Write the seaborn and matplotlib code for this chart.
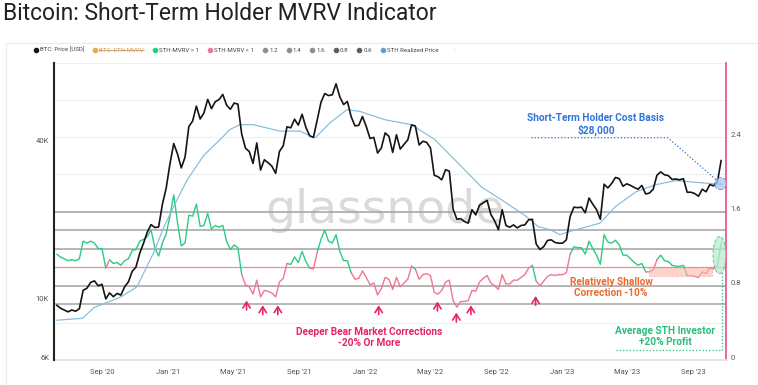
import matplotlib
matplotlib.use('Agg')
import matplotlib.pyplot as plt
import matplotlib.dates as mdates
from matplotlib.patches import Ellipse, Rectangle
from matplotlib.lines import Line2D
from matplotlib.ticker import NullLocator, FixedLocator
from matplotlib.transforms import ScaledTranslation
import numpy as np
import pandas as pd
import seaborn as sns

# weekly samples starting 2020-06-08
start_date = '2020-06-08'
btc_price = [
    # 2020
    9700, 9450, 9300, 9150, 9300, 9200, 9400, 11050, 11250, 11850, 12000, 11500, 11650,
    10250, 10800, 10450, 10750, 10600, 11400, 11900, 13050, 13550, 15300, 16700, 18400,
    19650, 19150, 19250, 23500, 27050,
    # 2021
    33500, 40000, 36500, 32300, 35500, 46400, 48700, 55500, 49600, 52300, 58900, 54300,
    57700, 58800, 61500, 56000, 54000, 57000, 56500, 43500, 38400, 37300, 33600, 40200,
    31700, 34700, 33800, 32800, 30800, 37300, 39200, 46300, 45900, 49500, 47000, 51700,
    46100, 42800, 42200, 49100, 57400, 62000, 60900, 61300, 67500, 60100, 56300, 57800,
    50600, 46700, 46900, 50700,
    # 2022
    46400, 41800, 42200, 36800, 38500, 43900, 42600, 37000, 43200, 38100, 39700, 41300,
    47100, 46600, 39500, 40800, 40400, 38500, 30300, 29900, 29100, 31800, 31400, 22500,
    20600, 20700, 20200, 19900, 22400, 21400, 23300, 23800, 24300, 21500, 20300, 18800,
    22400, 19500, 19200, 19600, 19100, 19500, 19600, 20500, 20600, 16600, 15800, 16200,
    17100, 17200, 16800, 16700,
    # 2023
    16700, 17200, 21100, 22900, 22800, 22900, 21800, 24800, 23500, 22400, 20600, 28000,
    27100, 28200, 29700, 29400, 27500, 28100, 27700, 27200, 26800, 27700, 25700, 25900,
    26800, 30300, 31200, 30400, 30200, 29200, 29300, 29100, 29400, 26100, 26100, 25800,
    25200, 26800, 26200, 27900, 27600, 28500, 34500,
]
sth_mvrv = [
    # 2020
    1.14, 1.11, 1.09, 1.07, 1.08, 1.07, 1.09, 1.28, 1.26, 1.28, 1.26, 1.20, 1.20,
    0.99, 1.08, 1.04, 1.05, 1.02, 1.07, 1.09, 1.18, 1.19, 1.28, 1.30, 1.33,
    1.40, 1.21, 1.12, 1.26, 1.36,
    # 2021
    1.55, 1.78, 1.48, 1.23, 1.26, 1.56, 1.55, 1.68, 1.44, 1.45, 1.58, 1.41,
    1.45, 1.43, 1.45, 1.28, 1.19, 1.24, 1.21, 0.92, 0.81, 0.79, 0.71, 0.86,
    0.68, 0.75, 0.74, 0.72, 0.68, 0.84, 0.88, 1.04, 1.03, 1.11, 1.05, 1.17,
    1.06, 0.99, 0.98, 1.16, 1.30, 1.40, 1.28, 1.26, 1.35, 1.17, 1.07, 1.07,
    0.94, 0.87, 0.88, 0.96,
    # 2022
    0.89, 0.81, 0.83, 0.70, 0.77, 0.89, 0.87, 0.76, 0.89, 0.79, 0.83, 0.87,
    1.01, 0.98, 0.87, 0.92, 0.93, 0.91, 0.73, 0.71, 0.75, 0.84, 0.86, 0.64,
    0.57, 0.63, 0.63, 0.64, 0.75, 0.74, 0.84, 0.88, 0.91, 0.83, 0.80, 0.76,
    0.92, 0.82, 0.82, 0.86, 0.86, 0.89, 0.92, 0.99, 1.02, 0.85, 0.80, 0.85,
    0.90, 0.92, 0.91, 0.92,
    # 2023
    0.92, 0.94, 1.14, 1.22, 1.21, 1.21, 1.14, 1.28, 1.20, 1.13, 1.03, 1.35,
    1.27, 1.26, 1.29, 1.24, 1.13, 1.13, 1.09, 1.05, 1.02, 1.04, 0.95, 0.95,
    0.97, 1.08, 1.13, 1.07, 1.06, 1.02, 1.01, 1.01, 1.02, 0.91, 0.91, 0.90,
    0.89, 0.95, 0.93, 0.99, 0.98, 1.02, 1.26,
]
rp_dates = [
    '2020-06-08', '2020-07-26', '2020-08-16', '2020-10-04', '2020-11-04', '2020-12-05',
    '2020-12-24', '2021-01-17', '2021-02-05', '2021-03-08', '2021-04-10', '2021-04-25',
    '2021-05-14', '2021-06-07', '2021-07-27', '2021-09-02', '2021-09-30', '2021-10-28',
    '2021-11-28', '2021-12-22', '2022-02-06', '2022-03-28', '2022-05-10', '2022-06-16',
    '2022-08-05', '2022-09-11', '2022-10-24', '2022-11-18', '2022-12-10', '2022-12-28',
    '2023-01-15', '2023-03-12', '2023-04-11', '2023-05-18', '2023-06-24', '2023-07-31',
    '2023-09-13', '2023-10-24',
]
rp_values = [
    8500, 8650, 9500, 10400, 11400, 15400,
    19300, 24400, 29100, 36100, 42000, 45200,
    47200, 47200, 44600, 44600, 42000, 48000,
    53800, 53000, 49300, 47200, 41400, 34700,
    27300, 24400, 21300, 19300, 18800, 18000,
    18500, 19900, 23100, 26200, 27900, 28900,
    28400, 27900,
]

# annotation anchors (date, STH-MVRV)
arrow_dates = ['2021-05-26', '2021-06-25', '2021-07-23', '2022-01-26',
               '2022-05-15', '2022-06-19', '2022-07-16', '2022-11-13']
arrow_tips = [0.67, 0.62, 0.62, 0.62, 0.66, 0.54, 0.62, 0.72]

left_ticks = [6000, 10000, 40000]
left_labels = ['6K', '10K', '40K']
right_ticks = [0, 0.8, 1.6, 2.4]
right_labels = ['0', '0.8', '1.6', '2.4']
band_levels = [1.2, 1.4, 1.6, 0.8, 0.6]

GREEN = '#2ccb84'
RED = '#f27592'
BLACK = '#141414'
BLUE_RP = '#86bbda'
PINK = '#e3256b'
ORANGE = '#ec6a2c'
BLUE_TXT = '#2f74d6'
ANN_GREEN = '#27bf7b'

dates = pd.date_range(start_date, periods=len(btc_price), freq='7D')
df = pd.DataFrame({'date': dates, 'price': btc_price, 'mvrv': sth_mvrv})
rp = pd.DataFrame({'date': pd.to_datetime(rp_dates), 'rp': rp_values})

# split mvrv into runs above / below 1 so each run gets its own colour
above = df['mvrv'] >= 1
run_id = (above != above.shift()).cumsum()
parts = []
for rid, grp in df.groupby(run_id):
    idx = list(grp.index)
    if idx[-1] + 1 < len(df):
        idx.append(idx[-1] + 1)
    part = df.loc[idx, ['date', 'mvrv']].copy()
    part['run'] = rid
    part['state'] = 'above' if above[grp.index[0]] else 'below'
    parts.append(part)
seg = pd.concat(parts, ignore_index=True)

sns.set_theme(style='white')
plt.rcParams['font.family'] = ['Roboto', 'DejaVu Sans']

fig = plt.figure(figsize=(7.58, 3.85), dpi=100)

# faint card outline
fig.add_artist(Rectangle((6 / 758, -0.1), 1.2, 1 - 43 / 385 + 0.1, transform=fig.transFigure,
                         facecolor='none', edgecolor='#ebebeb', lw=0.8))

ax = fig.add_axes([54 / 758, 25 / 385, 672 / 758, 297 / 385])
ax2 = ax.twinx()
ax.set_zorder(ax2.get_zorder() + 1)
ax.patch.set_visible(False)

# right axis: mvrv and level lines
for lvl in np.arange(0.4, 3.3, 0.4):
    ax2.axhline(lvl, color='#efefef', lw=0.8, zorder=0)
for lvl in band_levels:
    ax2.axhline(lvl, color='#a3a3a3', lw=1.1, zorder=1)
ax2.axhline(1.0, color='#ee8aa0', lw=0.9, zorder=1)

ax2.text(0.4926, 0.505, 'glassnode', transform=ax2.transAxes, ha='center', va='center',
         fontsize=34, color='#dadada', family=['DejaVu Sans'], zorder=0)

sns.lineplot(data=seg, x='date', y='mvrv', hue='state', units='run', estimator=None,
             palette={'above': GREEN, 'below': RED}, lw=1.0, legend=False, ax=ax2)

# left axis: price and realized price
sns.lineplot(data=rp, x='date', y='rp', color=BLUE_RP, lw=0.85, ax=ax)
sns.lineplot(data=df, x='date', y='price', color=BLACK, lw=1.2, ax=ax)

ax.set_yscale('log')
ax.set_ylim(6000, 81000)
ax2.set_ylim(0, 3.2)
ax.set_xlim(mdates.date2num(pd.Timestamp('2020-06-03')), mdates.date2num(pd.Timestamp('2023-11-01')))

ax.yaxis.set_major_locator(FixedLocator(left_ticks))
ax.yaxis.set_minor_locator(NullLocator())
ax.set_yticklabels(left_labels)
ax2.set_yticks(right_ticks)
ax2.set_yticklabels(right_labels)
ax.xaxis.set_major_locator(FixedLocator(mdates.date2num(pd.date_range('2020-09-01', '2023-09-01', freq='4MS'))))
ax.xaxis.set_major_formatter(mdates.DateFormatter("%b '%y"))
ax.set_xlabel('')
ax.set_ylabel('')
ax2.set_ylabel('')

for a in (ax, ax2):
    a.tick_params(length=0, labelsize=5.5, colors='#555555')
    for s in a.spines.values():
        s.set_visible(False)
ax.tick_params(axis='y', pad=3.5)
ax.tick_params(axis='x', pad=6.5)
ax2.tick_params(axis='y', pad=3)
ax.spines['left'].set_visible(True)
ax.spines['left'].set_color('#222222')
ax.spines['left'].set_linewidth(1.5)
ax2.spines['right'].set_visible(True)
ax2.spines['right'].set_color('#e4507a')
ax2.spines['right'].set_linewidth(1.2)
ax2.spines['bottom'].set_visible(True)
ax2.spines['bottom'].set_color('#e2e2e2')

# y tick labels sit a little above their value, as in the source
lift = ScaledTranslation(0, 3 / 100, fig.dpi_scale_trans)
for lbl in ax.get_yticklabels() + ax2.get_yticklabels():
    lbl.set_transform(lbl.get_transform() + lift)

d2n = lambda s: mdates.date2num(pd.Timestamp(s))

# shallow correction box
ax2.add_patch(Rectangle((d2n('2023-06-11'), 0.90), d2n('2023-10-06') - d2n('2023-06-11'), 0.09,
                        facecolor='#f9b9ad', edgecolor='#f5a396', lw=0.6, ls='--', alpha=0.6, zorder=2))
# green ellipse + dotted guide
ax.add_patch(Ellipse((d2n('2023-10-20'), 1.13), 24, 0.40, transform=ax2.transData,
                     facecolor='#bdebd4', edgecolor=ANN_GREEN, ls='--', lw=0.7, alpha=0.75, zorder=5))
ax.plot([d2n('2023-04-11'), d2n('2023-10-24'), d2n('2023-10-24')], [0.108, 0.108, 0.95],
        transform=ax2.transData, color=ANN_GREEN, ls=':', lw=0.9, zorder=5)
# blue circle + dotted guide
ax.plot([d2n('2022-11-05'), d2n('2023-07-16'), d2n('2023-10-22')], [2.395, 2.395, 1.90],
        transform=ax2.transData, color=BLUE_TXT, ls=':', lw=0.9, zorder=5)
ax.add_patch(Ellipse((d2n('2023-10-22'), 1.90), 22, 0.13, transform=ax2.transData,
                     facecolor='#a9c8f2', edgecolor=BLUE_TXT, ls='--', lw=0.6, alpha=0.75, zorder=6))

for d, tip in zip(arrow_dates, arrow_tips):
    ax2.annotate('', xy=(d2n(d), tip), xytext=(d2n(d), tip - 0.16),
                 arrowprops=dict(arrowstyle='->,head_length=0.35,head_width=0.22', color=PINK, lw=1.2))

txt_kw = dict(ha='center', va='center', fontsize=7.3, fontweight='bold', linespacing=1.15, zorder=7)
ax.text(d2n('2023-03-05'), 2.535, 'Short-Term Holder Cost Basis\n$28,000', transform=ax2.transData,
        color=BLUE_TXT, **txt_kw)
ax2.text(d2n('2023-04-02'), 0.78, 'Relatively Shallow\nCorrection -10%', color=ORANGE, **txt_kw)
ax2.text(d2n('2023-07-11'), 0.257, 'Average STH Investor\n+20% Profit', color=ANN_GREEN, **txt_kw)
ax2.text(d2n('2022-01-08'), 0.24, 'Deeper Bear Market Corrections\n-20% Or More', color=PINK, **txt_kw)

fig.text(3 / 758, 1 - 14 / 385, 'Bitcoin: Short-Term Holder MVRV Indicator', ha='left', va='center',
         fontsize=16.5, color='#222222')

leg_items = [('BTC: Price [USD]', BLACK), ('BTC: STH-MVRV', '#f0a64a'), ('STH-MVRV > 1', GREEN),
             ('STH-MVRV < 1', RED), ('1.2', '#8f8f8f'), ('1.4', '#8f8f8f'), ('1.6', '#8f8f8f'),
             ('0.8', '#606060'), ('0.6', '#606060'), ('STH Realized Price', '#5aa3cf'), ('-', 'none')]
handles = [Line2D([], [], marker='o', ls='', color=c, markersize=3) for _, c in leg_items]
leg = fig.legend(handles, [l for l, _ in leg_items], loc='center left',
                 bbox_to_anchor=(34 / 758, 1 - 50 / 385), ncol=len(leg_items), frameon=False,
                 fontsize=4.4, handlelength=0.6, handletextpad=0.36, columnspacing=1.5,
                 borderaxespad=0, borderpad=0)
for t in leg.get_texts():
    t.set_color('#444444')
leg.get_texts()[1].set_color('#d19a5c')
leg.get_texts()[-1].set_color('#bbbbbb')

fig.canvas.draw()
r = fig.canvas.get_renderer()
bb = leg.get_texts()[1].get_window_extent(r).transformed(fig.transFigure.inverted())
ymid = (bb.y0 + bb.y1) / 2
fig.add_artist(Line2D([bb.x0, bb.x1], [ymid, ymid], transform=fig.transFigure, color='#d19a5c', lw=0.6))

fig.savefig('out.png', dpi=100)
